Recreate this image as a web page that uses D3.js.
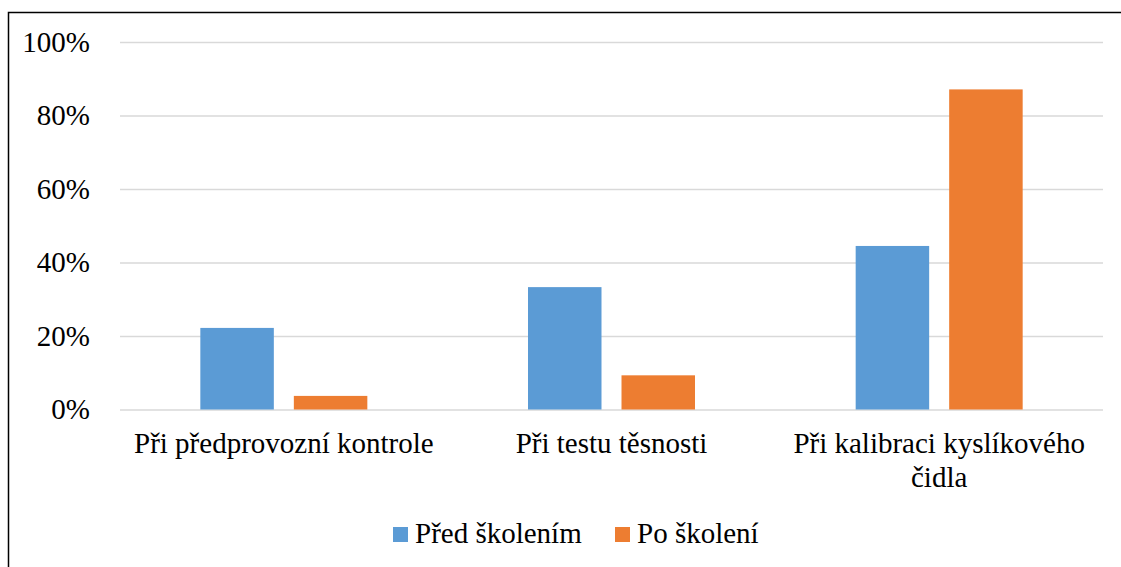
<!DOCTYPE html>
<html>
<head>
<meta charset="utf-8">
<script src="https://cdnjs.cloudflare.com/ajax/libs/d3/7.8.5/d3.min.js"></script>
<style>
  body { margin: 0; background: #fff; }
</style>
</head>
<body>
<div id="container"></div>
<script>
// data
const categories = [["Při předprovozní kontrole"], ["Při testu těsnosti"], ["Při kalibraci kyslíkového", "čidla"]];
const seriesNames = ["Před školením", "Po školení"];
const beforeValues = [0.222, 0.333, 0.445];
const afterValues = [0.037, 0.093, 0.871];
const yTicks = [0, 0.2, 0.4, 0.6, 0.8, 1.0];
const colors = ["#5b9bd5", "#ed7d31"];

const w = 1121, h = 567;
const plotLeft = 120, plotRight = 1103, plotTop = 42, plotBottom = 409.5;
const FONT = "Liberation Serif";
const FSIZE = 29;

const svg = d3.select("#container")
              .append("svg")
              .attr("width", w)
              .attr("height", h);

// chart border (right/bottom edges fall outside the picture)
svg.append("rect")
   .attr("x", 8.5).attr("y", 12.5)
   .attr("width", 1130).attr("height", 600)
   .attr("fill", "none")
   .attr("stroke", "#000")
   .attr("stroke-width", 1.5);

const catIdx = d3.range(categories.length);
const x0 = d3.scaleBand().domain(catIdx).range([plotLeft, plotRight]).padding(0);
const groupW = 167;
const x1 = d3.scaleBand().domain(d3.range(seriesNames.length))
             .range([0, groupW]).paddingInner(0.214).paddingOuter(0);
const y = d3.scaleLinear().domain([0, 1]).range([plotBottom, plotTop]);

// gridlines
const yAxis = d3.axisLeft(y)
                .tickValues(yTicks)
                .tickSize(-(plotRight - plotLeft))
                .tickPadding(30)
                .tickFormat(d3.format(".0%"));
const gy = svg.append("g")
   .attr("transform", "translate(" + plotLeft + ",0)")
   .call(yAxis);
gy.select(".domain").remove();
gy.selectAll(".tick line").attr("stroke", "#d9d9d9").attr("stroke-width", 1.5);
gy.selectAll(".tick text")
  .attr("fill", "#000")
  .attr("font-family", FONT)
  .attr("font-size", FSIZE);

// bars
const rows = [];
catIdx.forEach(function(c){
    rows.push({c: c, s: 0, v: beforeValues[c]});
    rows.push({c: c, s: 1, v: afterValues[c]});
});
svg.append("g").selectAll("rect")
   .data(rows)
   .enter()
   .append("rect")
   .attr("x", (d) => x0(d.c) + (x0.bandwidth() - groupW) / 2 + x1(d.s))
   .attr("y", (d) => y(d.v))
   .attr("width", x1.bandwidth())
   .attr("height", (d) => y(0) - y(d.v))
   .attr("fill", (d) => colors[d.s]);

// category labels
catIdx.forEach(function(c){
    const cx = x0(c) + x0.bandwidth() / 2;
    categories[c].forEach(function(line, i){
        svg.append("text")
           .attr("x", cx)
           .attr("y", 453 + i * 33.5)
           .attr("text-anchor", "middle")
           .attr("font-family", FONT)
           .attr("font-size", FSIZE)
           .text(line);
    });
});

// legend
const legendX = [393, 615];
seriesNames.forEach(function(name, i){
    svg.append("rect")
       .attr("x", legendX[i]).attr("y", 527)
       .attr("width", 15).attr("height", 15)
       .attr("fill", colors[i]);
    svg.append("text")
       .attr("x", legendX[i] + 22)
       .attr("y", 543)
       .attr("font-family", FONT)
       .attr("font-size", FSIZE)
       .text(name);
});
</script>
</body>
</html>
